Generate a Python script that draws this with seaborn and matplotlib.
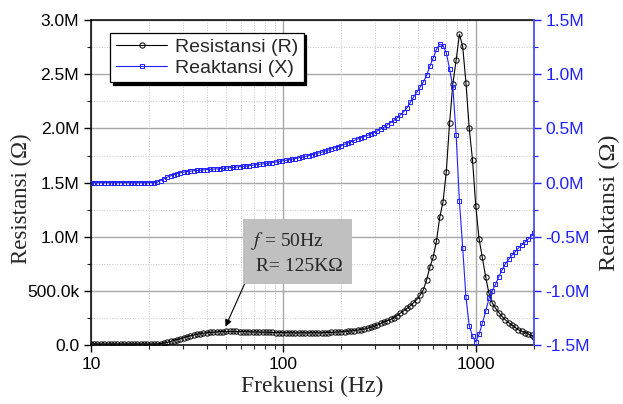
import numpy as np
import pandas as pd
import matplotlib
matplotlib.use("Agg")
import matplotlib.pyplot as plt
from matplotlib.ticker import FixedLocator, NullFormatter, LogLocator
import seaborn as sns

# frequency points (Hz)
freq = [10, 10.4, 10.8, 11.3, 11.7, 12.2, 12.7, 13.2, 13.7, 14.3,
        14.9, 15.5, 16.1, 16.8, 17.4, 18.1, 18.9, 19.6, 20.4, 21.2,
        22.1, 23, 23.9, 24.9, 25.9, 26.9, 28, 29.1, 30.3, 31.5,
        32.8, 34.1, 35.5, 36.9, 38.4, 39.9, 41.5, 43.2, 44.9, 46.7,
        48.6, 50.5, 52.6, 54.7, 56.9, 59.2, 61.5, 64, 66.6, 69.2,
        72, 74.9, 77.9, 81, 84.3, 87.6, 91.1, 94.8, 98.6, 102.5,
        106.6, 110.9, 115.3, 120, 124.8, 129.8, 135, 140.4, 146, 151.8,
        157.9, 164.2, 170.8, 177.6, 184.7, 192.1, 199.8, 207.8, 216.1, 224.8,
        233.8, 243.1, 252.8, 263, 273.5, 284.4, 295.8, 307.6, 320, 332.8,
        346.1, 360, 374.4, 389.3, 404.9, 421.1, 437.9, 455.5, 473.7, 492.6,
        512.3, 532.8, 554.1, 576.3, 599.4, 623.3, 648.3, 674.2, 701.2, 729.2,
        758.4, 788.7, 820.3, 853.1, 887.2, 922.7, 959.6, 998, 1038, 1079,
        1123, 1168, 1214, 1263, 1313, 1366, 1421, 1477, 1537, 1598,
        1662, 1728, 1798, 1870, 1944, 2000]

# resistance R (MOhm)
res_r = [0.01, 0.01, 0.01, 0.01, 0.01, 0.01, 0.01, 0.01, 0.01, 0.01,
         0.01, 0.01, 0.01, 0.01, 0.01, 0.01, 0.01, 0.01, 0.01, 0.01,
         0.01, 0.013, 0.018, 0.025, 0.033, 0.041, 0.05, 0.059, 0.068, 0.077,
         0.085, 0.092, 0.099, 0.104, 0.109, 0.113, 0.116, 0.119, 0.121, 0.123,
         0.124, 0.125, 0.125, 0.125, 0.125, 0.124, 0.124, 0.123, 0.122, 0.121,
         0.12, 0.119, 0.118, 0.117, 0.116, 0.116, 0.115, 0.115, 0.114, 0.114,
         0.113, 0.113, 0.112, 0.112, 0.112, 0.112, 0.112, 0.112, 0.112, 0.113,
         0.113, 0.114, 0.115, 0.116, 0.118, 0.12, 0.122, 0.124, 0.127, 0.13,
         0.134, 0.138, 0.143, 0.148, 0.155, 0.163, 0.172, 0.185, 0.2, 0.212,
         0.224, 0.236, 0.252, 0.272, 0.295, 0.315, 0.338, 0.362, 0.39, 0.42,
         0.46, 0.51, 0.6, 0.72, 0.81, 0.96, 1.18, 1.32, 1.6, 2.05,
         2.41, 2.63, 2.87, 2.76, 2.42, 2.0, 1.71, 1.28, 0.98, 0.81,
         0.63, 0.477, 0.39, 0.34, 0.3, 0.265, 0.232, 0.207, 0.185, 0.162,
         0.14, 0.128, 0.115, 0.1, 0.088, 0.078]

# reactance X (MOhm)
reak_x = [0.0, 0.0, 0.0, 0.0, 0.0, 0.0, 0.0, 0.0, 0.0, 0.0,
          0.0, 0.0, 0.0, 0.0, 0.0, 0.0, 0.0, 0.0, 0.0, 0.0,
          0.005, 0.018, 0.035, 0.05, 0.062, 0.072, 0.082, 0.09, 0.097, 0.102,
          0.106, 0.109, 0.112, 0.115, 0.117, 0.12, 0.122, 0.124, 0.126, 0.129,
          0.131, 0.134, 0.137, 0.14, 0.143, 0.146, 0.149, 0.152, 0.156, 0.16,
          0.164, 0.168, 0.172, 0.177, 0.181, 0.185, 0.19, 0.195, 0.2, 0.205,
          0.21, 0.216, 0.222, 0.228, 0.235, 0.242, 0.249, 0.256, 0.264, 0.272,
          0.281, 0.29, 0.3, 0.31, 0.32, 0.331, 0.342, 0.353, 0.365, 0.377,
          0.39, 0.403, 0.414, 0.425, 0.436, 0.448, 0.462, 0.478, 0.495, 0.512,
          0.532, 0.553, 0.575, 0.598, 0.625, 0.655, 0.69, 0.74, 0.79, 0.835,
          0.88, 0.93, 0.99, 1.075, 1.15, 1.23, 1.28, 1.265, 1.2, 1.05,
          0.885, 0.44, -0.17, -0.6, -1.06, -1.32, -1.42, -1.47, -1.4, -1.3,
          -1.19, -1.07, -1.0, -0.94, -0.87, -0.808, -0.75, -0.71, -0.67, -0.64,
          -0.605, -0.577, -0.55, -0.52, -0.49, -0.47]

left_ticks = [0.0, 0.5, 1.0, 1.5, 2.0, 2.5, 3.0]
left_labels = ["0.0", "500.0k", "1.0M", "1.5M", "2.0M", "2.5M", "3.0M"]
right_ticks = [-1.5, -1.0, -0.5, 0.0, 0.5, 1.0, 1.5]
right_labels = ["-1.5M", "-1.0M", "-0.5M", "0.0M", "0.5M", "1.0M", "1.5M"]
x_ticks = [10, 100, 1000]
x_labels = ["10", "100", "1000"]

df = pd.DataFrame({"f": freq, "R": res_r, "X": reak_x})

sns.set_style("ticks")
plt.rcParams["font.family"] = ["Liberation Sans", "DejaVu Sans"]
plt.rcParams["mathtext.fontset"] = "stix"
serif = ["Liberation Serif", "DejaVu Serif"]
blue = "#2020ff"

fig, ax = plt.subplots(figsize=(6.23, 4.04), dpi=100)
fig.subplots_adjust(left=0.146, right=0.857, bottom=0.146, top=0.950)
ax2 = ax.twinx()

sns.lineplot(data=df, x="f", y="R", ax=ax, estimator=None, color="black", lw=0.8,
             marker="o", markersize=3.8, markerfacecolor="none", markeredgecolor="black",
             markeredgewidth=0.7, label="Resistansi (R)", legend=False)
sns.lineplot(data=df, x="f", y="X", ax=ax2, estimator=None, color=blue, lw=0.8,
             marker="s", markersize=3.4, markerfacecolor="none", markeredgecolor=blue,
             markeredgewidth=0.7, label="Reaktansi (X)", legend=False)

ax.set_xscale("log")
ax.set_xlim(10, 2000)
ax.set_ylim(0, 3.0)
ax2.set_ylim(-1.5, 1.5)

ax.set_xticks(x_ticks)
ax.set_xticklabels(x_labels)
ax.xaxis.set_minor_locator(LogLocator(base=10, subs=np.arange(2, 10)))
ax.xaxis.set_minor_formatter(NullFormatter())
ax.set_yticks(left_ticks)
ax.set_yticklabels(left_labels)
ax.yaxis.set_minor_locator(FixedLocator(np.arange(0.25, 3.0, 0.5)))
ax2.set_yticks(right_ticks)
ax2.set_yticklabels(right_labels)
ax2.yaxis.set_minor_locator(FixedLocator(np.arange(-1.25, 1.5, 0.5)))

ax.grid(which="major", color="#a8a8a8", lw=1.0, ls="-")
ax.grid(which="minor", color="#c8c8c8", lw=0.7, ls=":")
ax.set_axisbelow(True)

ax.tick_params(which="major", direction="out", length=5, width=1, labelsize=12.5,
               colors="black")
ax.tick_params(which="minor", direction="out", length=3, width=0.8)
ax.tick_params(top=False, right=False, which="both")
ax2.tick_params(axis="y", which="major", direction="out", length=5, width=1,
                labelsize=12.5, colors=blue)
ax2.tick_params(axis="y", which="minor", direction="out", length=3, width=0.8,
                colors=blue)

for s in ["left", "bottom", "top"]:
    ax.spines[s].set_color("black")
    ax.spines[s].set_linewidth(1.1)
ax.spines["right"].set_visible(False)
for s in ["left", "bottom", "top"]:
    ax2.spines[s].set_visible(False)
ax2.spines["right"].set_color("#4a4aff")
ax2.spines["right"].set_linewidth(1.3)

ax.set_xlabel("Frekuensi (Hz)", fontsize=17, family=serif, labelpad=3)
ax.set_ylabel("Resistansi (Ω)", fontsize=16.5, family=serif)
ax.yaxis.set_label_coords(-0.133, 0.452)
ax2.set_ylabel("Reaktansi (Ω)", fontsize=17.5, family=serif)
ax2.yaxis.set_label_coords(1.147, 0.437)

handles = ax.get_lines()[:1] + ax2.get_lines()[:1]
leg = ax2.legend(handles, ["Resistansi (R)", "Reaktansi (X)"], loc="upper left",
                 bbox_to_anchor=(0.044, 0.962), fontsize=14, frameon=True,
                 fancybox=False, shadow={"color": "black", "alpha": 1},
                 edgecolor="black", framealpha=1, numpoints=1, handlelength=2.6,
                 borderpad=0.3, labelspacing=0.15, handletextpad=0.4,
                 borderaxespad=0)
leg.get_frame().set_linewidth(0.9)

ax2.text(0.362, 0.285, "$f$ = 50Hz\n R= 125KΩ", transform=ax.transAxes,
         fontsize=14, family=serif, va="center", ha="left", linespacing=1.5,
         bbox=dict(boxstyle="square,pad=0.45", facecolor="#c0c0c0",
                   edgecolor="none"), zorder=5)
ax.annotate("", xy=(50, 0.17), xytext=(63, 0.57),
            arrowprops=dict(arrowstyle="-|>", color="black", lw=0.8,
                            mutation_scale=10, shrinkA=0, shrinkB=0))

fig.savefig("out.png", dpi=100)
